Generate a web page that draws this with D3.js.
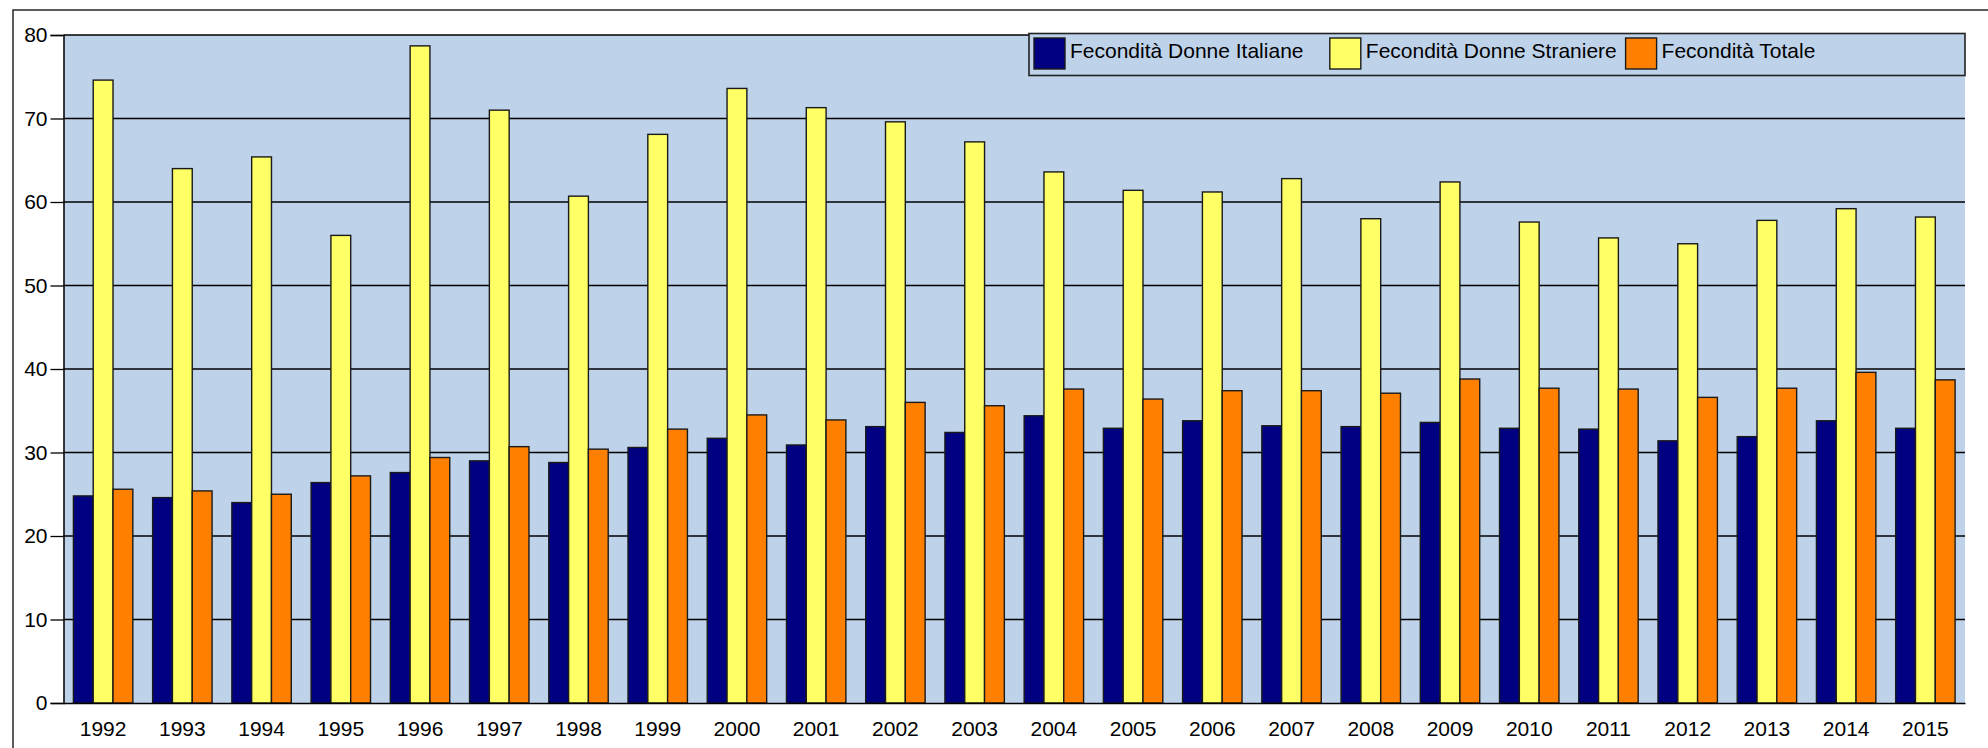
<!DOCTYPE html>
<html>
<head>
<meta charset="utf-8">
<script src="https://cdn.jsdelivr.net/npm/d3@7"></script>
<style>
  html, body { margin: 0; padding: 0; background: #ffffff; }
  svg { display: block; }
  text { font-family: "Liberation Sans", Arial, sans-serif; fill: #000; }
</style>
</head>
<body>
<svg id="chart" width="1988" height="748"></svg>
<script>
const years = ["1992","1993","1994","1995","1996","1997","1998","1999","2000","2001","2002","2003","2004","2005","2006","2007","2008","2009","2010","2011","2012","2013","2014","2015"];
const seriesNames = ["Fecondità Donne Italiane", "Fecondità Donne Straniere", "Fecondità Totale"];
const italiane = [24.8,24.6,24.0,26.4,27.6,29.0,28.8,30.6,31.7,30.9,33.1,32.4,34.4,32.9,33.8,33.2,33.1,33.6,32.9,32.8,31.4,31.9,33.8,32.9];
const straniere = [74.6,64.0,65.4,56.0,78.7,71.0,60.7,68.1,73.6,71.3,69.6,67.2,63.6,61.4,61.2,62.8,58.0,62.4,57.6,55.7,55.0,57.8,59.2,58.2];
const totale = [25.6,25.4,25.0,27.2,29.4,30.7,30.4,32.8,34.5,33.9,36.0,35.6,37.6,36.4,37.4,37.4,37.1,38.8,37.7,37.6,36.6,37.7,39.6,38.7];
const yTicks = [0,10,20,30,40,50,60,70,80];
const colors = ["#000080", "#FFFF66", "#FF8000"];

(function () {
const svg = d3.select("#chart");
const pLeft = 63.5, pRight = 1965, pTop = 35, pBottom = 703;

// outer frame
svg.append("rect")
  .attr("x", 13).attr("y", 10).attr("width", 2000).attr("height", 800)
  .attr("fill", "#fff").attr("stroke", "#333").attr("stroke-width", 1.6);

const x = d3.scaleBand().domain(years).range([pLeft, pRight]).paddingInner(0.25).paddingOuter(0.125);
const x1 = d3.scaleBand().domain(d3.range(3)).range([0, x.bandwidth()]);
const y = d3.scaleLinear().domain([0, 80]).range([pBottom, pTop]);

// plot background
svg.append("rect")
  .attr("x", pLeft).attr("y", pTop).attr("width", pRight - pLeft).attr("height", pBottom - pTop)
  .attr("fill", "#BED3EA");

// gridlines
svg.append("g").selectAll("line").data(yTicks.filter(d => d > 0)).join("line")
  .attr("x1", pLeft).attr("x2", pRight)
  .attr("y1", d => y(d)).attr("y2", d => y(d))
  .attr("stroke", "#000").attr("stroke-width", 1.3);

// bars
const data = years.map((yr, i) => ({ year: yr, values: [italiane[i], straniere[i], totale[i]] }));
const groups = svg.append("g").selectAll("g").data(data).join("g")
  .attr("transform", d => `translate(${x(d.year)},0)`);
groups.selectAll("rect").data(d => d.values.map((v, k) => ({ v, k }))).join("rect")
  .attr("x", d => x1(d.k))
  .attr("y", d => y(d.v))
  .attr("width", x1.bandwidth())
  .attr("height", d => y(0) - y(d.v))
  .attr("fill", d => colors[d.k])
  .attr("stroke", "#1a1a1a").attr("stroke-width", 1.4);

// y axis
const yAxis = d3.axisLeft(y).tickValues(yTicks).tickSize(13).tickPadding(3);
const ya = svg.append("g").attr("transform", `translate(${pLeft},0)`).call(yAxis);
ya.select(".domain").attr("stroke", "#000").attr("stroke-width", 1.5);
ya.selectAll(".tick line").attr("stroke", "#000").attr("stroke-width", 1.3);
ya.selectAll(".tick text").attr("font-size", 21).attr("font-family", "Liberation Sans, Arial, sans-serif").attr("fill", "#000");

// x axis
const xAxis = d3.axisBottom(x).tickSize(0).tickPadding(18);
const xa = svg.append("g").attr("transform", `translate(0,${pBottom})`).call(xAxis);
xa.select(".domain").attr("stroke", "#000").attr("stroke-width", 1.5);
xa.selectAll(".tick text").attr("font-size", 21).attr("font-family", "Liberation Sans, Arial, sans-serif").attr("fill", "#000");

// legend
const lg = svg.append("g");
lg.append("rect")
  .attr("x", 1029).attr("y", 33.5).attr("width", 936).attr("height", 42)
  .attr("fill", "#BED3EA").attr("stroke", "#222").attr("stroke-width", 1.6);
const items = lg.selectAll("g.item").data(seriesNames).join("g")
  .attr("class", "item")
  .attr("transform", (d, i) => `translate(${1034 + i * 295.8},38)`);
items.append("rect")
  .attr("width", 31).attr("height", 31)
  .attr("fill", (d, i) => colors[i]).attr("stroke", "#1a1a1a").attr("stroke-width", 1.4);
items.append("text")
  .attr("x", 36).attr("y", 20)
  .attr("font-size", 21)
  .text(d => d);
})();
</script>
</body>
</html>
